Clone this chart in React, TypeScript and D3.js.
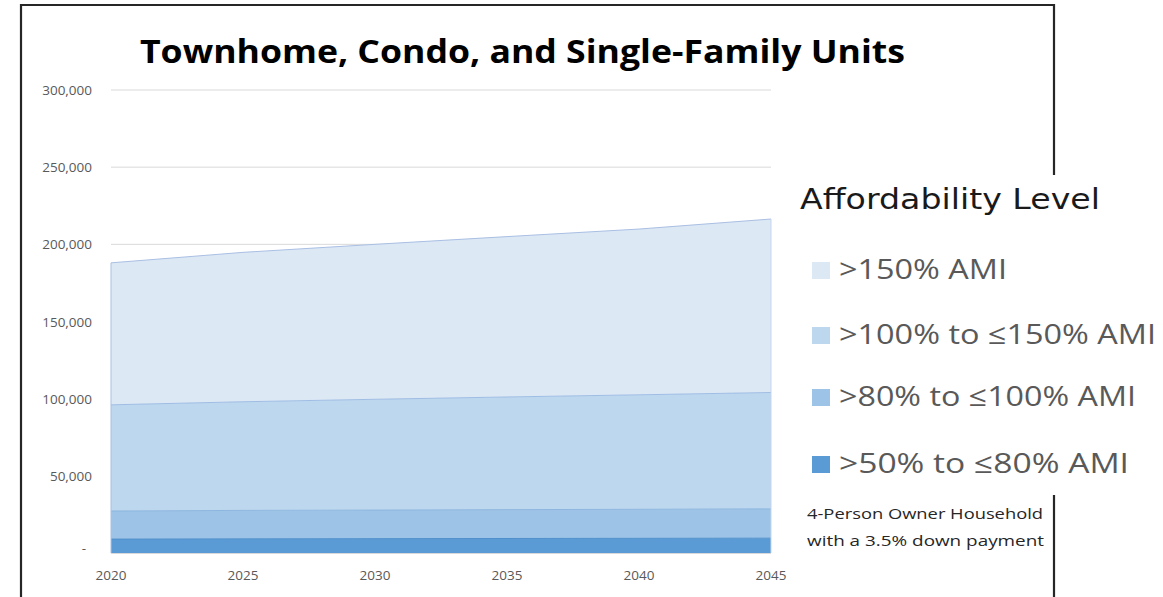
import React from 'react';
import * as d3 from 'd3';

const years = [2020, 2025, 2030, 2035, 2040, 2045];
const seriesKeys = ['ami50to80', 'ami80to100', 'ami100to150', 'ami150plus'];
const seriesLabels = ['>50% to ≤80% AMI', '>80% to ≤100% AMI', '>100% to ≤150% AMI', '>150% AMI'];
const ami50to80 = [9000, 9200, 9300, 9400, 9500, 9600];
const ami80to100 = [18200, 18400, 18500, 18700, 18800, 19000];
const ami100to150 = [68800, 70400, 71800, 73000, 74200, 75400];
const ami150plus = [92000, 96800, 100400, 103900, 107400, 112400];
const yTicks = [0, 50000, 100000, 150000, 200000, 250000, 300000];
const xTicks = [2020, 2025, 2030, 2035, 2040, 2045];
const fills = ['#5b9bd5', '#9dc3e6', '#bdd7ee', '#dde8f5'];
const strokes = ['#4f8fcb', '#8db6df', '#9fbde4', '#a9bfe3'];

const titleText = 'Townhome, Condo, and Single-Family Units';
const legendTitle = 'Affordability Level';
const noteLines = ['4-Person Owner Household', 'with a 3.5% down  payment'];

export default function App() {
  const W = 1163, H = 597;
  const x = d3.scaleLinear().domain([2020, 2045]).range([111, 771]);
  const y = d3.scaleLinear().domain([0, 300000]).range([553, 90]);

  const rows = years.map((yr, i) => ({
    year: yr,
    ami50to80: ami50to80[i],
    ami80to100: ami80to100[i],
    ami100to150: ami100to150[i],
    ami150plus: ami150plus[i],
  }));
  const stacked = d3.stack<any>().keys(seriesKeys)(rows);
  const area = d3.area<any>()
    .x((d: any) => x(d.data.year))
    .y0((d: any) => y(d[0]))
    .y1((d: any) => y(d[1]));
  const topLine = d3.line<any>()
    .x((d: any) => x(d.data.year))
    .y((d: any) => y(d[1]));

  const font = '"Open Sans", "Noto Sans", sans-serif';
  const legendRows = [3, 2, 1, 0];
  const legendYs = [270, 335, 397, 464];
  const legendWidths = [168, 317, 297, 290];

  return (
    <svg width={W} height={H} style={{ position: 'absolute', left: 0, top: 0, background: '#fff' }}>
      <rect x={0} y={0} width={W} height={H} fill="#fff" />
      {/* frame */}
      <path d="M21,597 L21,5 L1054,5 L1054,175" fill="none" stroke="#262626" strokeWidth={2.2} />
      <path d="M1054,495 L1054,597" fill="none" stroke="#262626" strokeWidth={2.2} />

      {/* gridlines */}
      {yTicks.filter(t => t > 0).map(t => (
        <line key={t} x1={x(2020)} x2={x(2045)} y1={y(t)} y2={y(t)} stroke="#d9d9d9" strokeWidth={1} />
      ))}

      {/* areas */}
      {stacked.map((s, i) => (
        <path key={s.key} d={area(s) || ''} fill={fills[i]} stroke="none" />
      ))}
      {stacked.map((s, i) => (
        <path key={s.key + 'l'} d={topLine(s) || ''} fill="none" stroke={strokes[i]} strokeWidth={1} />
      ))}
      <line x1={x(2020)} x2={x(2020)} y1={y(0)} y2={y(stacked[3][0][1])} stroke="#a9bfe3" strokeWidth={1} />
      <line x1={x(2045)} x2={x(2045)} y1={y(0)} y2={y(stacked[3][5][1])} stroke="#c5d5ee" strokeWidth={1} />
      <line x1={x(2020)} x2={x(2045)} y1={y(0) + 0.5} y2={y(0) + 0.5} stroke="#d9d9d9" strokeWidth={1} />

      {/* y axis labels */}
      {yTicks.map(t => (
        <text key={t} x={t === 0 ? 86 : 92} y={t === 0 ? y(t) : y(t) + 5} textAnchor="end" fontFamily={font} fontSize={13.5} fill="#595959">
          {t === 0 ? '-' : d3.format(',')(t)}
        </text>
      ))}

      {/* x axis labels */}
      {xTicks.map(t => (
        <text key={t} x={x(t)} y={580} textAnchor="middle" fontFamily={font} fontSize={13.5} fill="#595959">
          {t}
        </text>
      ))}

      {/* title */}
      <text x={140} y={63} fontFamily={font} fontWeight={700} fontSize={33} fill="#000" textLength={765} lengthAdjust="spacingAndGlyphs">
        {titleText}
      </text>

      {/* legend */}
      <text x={800} y={209} fontFamily='"DejaVu Sans", sans-serif' fontSize={29} fill="#1a1a1a" textLength={300} lengthAdjust="spacingAndGlyphs">
        {legendTitle}
      </text>
      {legendRows.map((si, k) => (
        <g key={si}>
          <rect x={812} y={legendYs[k] - 8} width={18} height={17} fill={fills[si]} />
          <text x={839} y={legendYs[k] + 9} fontFamily={font} fontSize={28} fill="#595959" textLength={legendWidths[k]} lengthAdjust="spacingAndGlyphs">
            {seriesLabels[si]}
          </text>
        </g>
      ))}

      {/* note */}
      <text x={807} y={519} fontFamily={font} fontSize={15} fill="#262626" textLength={236} lengthAdjust="spacingAndGlyphs">{noteLines[0]}</text>
      <text x={807} y={546} fontFamily={font} fontSize={15} fill="#262626" textLength={237} lengthAdjust="spacingAndGlyphs">{noteLines[1]}</text>
    </svg>
  );
}
